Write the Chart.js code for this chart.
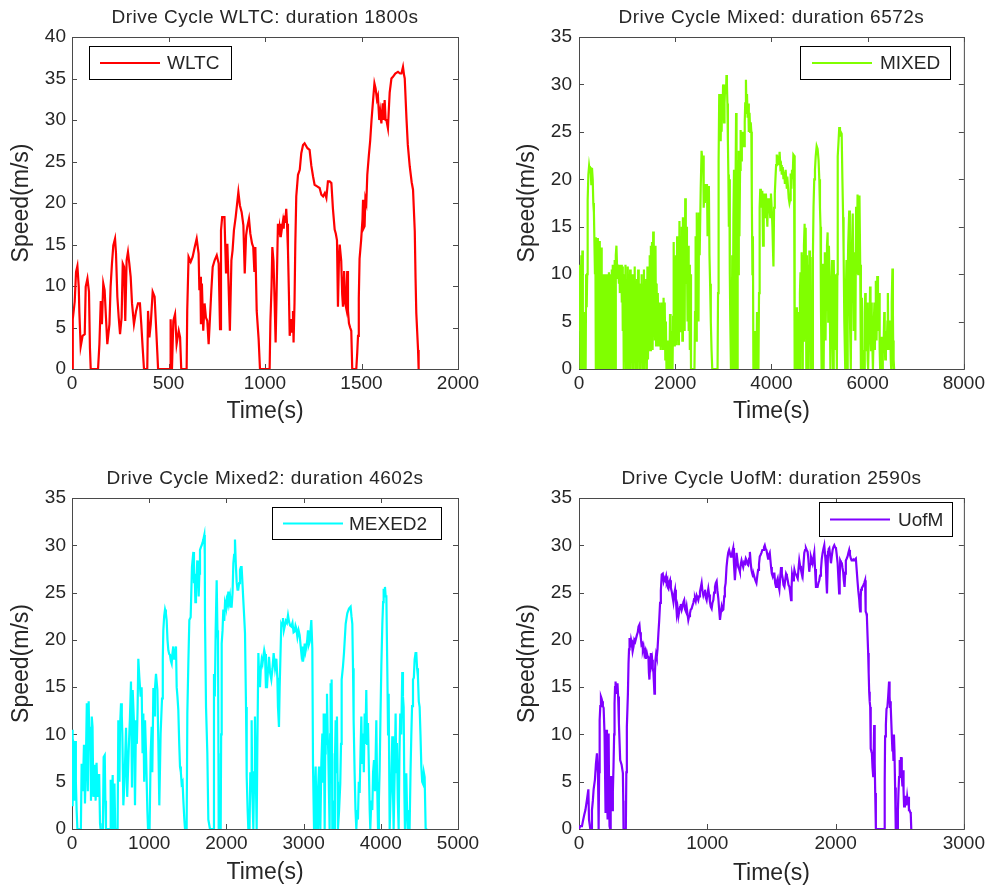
<!DOCTYPE html>
<html>
<head>
<meta charset="utf-8">
<title>Drive cycles</title>
<script src="https://cdn.jsdelivr.net/npm/chart.js@4.4.1/dist/chart.umd.min.js"></script>
<style>
  html, body { margin: 0; padding: 0; background: #fff; }
  #sheet { position: relative; width: 988px; height: 890px; }
  .cell { position: absolute; width: 494px; height: 445px; }
</style>
</head>
<body>
<div id="sheet">
  <div class="cell" style="left:0;top:0"><canvas id="wltc" width="494" height="445"></canvas></div>
  <div class="cell" style="left:494px;top:0"><canvas id="mixed" width="494" height="445"></canvas></div>
  <div class="cell" style="left:0;top:445px"><canvas id="mixed2" width="494" height="445"></canvas></div>
  <div class="cell" style="left:494px;top:445px"><canvas id="uofm" width="494" height="445"></canvas></div>
</div>
<script>
// speed traces, [time s, speed m/s]
const wltcTrace = [
  [0,0],[4,0],[4,6],[14,8.1],[21,11.7],[28,12.4],[35,9.9],[38,6.9],[45,2.7],[55,4],[66,4.2],[71,9.9],[80,10.9],[88,9.3],[93,2.5],[97,0],
  [135,0],[142,3],[149,8.2],[155,5.4],[162,10.3],[169,9.5],[176,6.2],[183,3],[194,5.4],[200,9.9],[207,12.7],[214,14.9],[223,15.7],[228,13.9],
  [235,8.7],[242,6.2],[249,4.2],[257,6.2],[263,12.7],[270,12.3],[276,5.8],[283,13.1],[290,14.1],[297,12.7],[304,11.1],[311,7.9],[321,5.4],
  [332,7],[342,7.9],[352,7.9],[359,5.4],[366,2.6],[373,0],[390,0],[394,7],[401,3.8],[408,5.4],[418,9.3],[428,8.7],[435,5.4],[442,2],[446,0],
  [508,0],[511,6],[518,0],[525,5.8],[534,6.6],[542,3],[553,4.6],[560,3.8],[566,0],[594,0],[597,7],[604,13.5],[615,12.9],[625,13.5],
  [636,14.7],[646,15.7],[656,13.9],[660,9.5],[665,11.1],[668,5.4],[673,10.3],[680,4.6],[687,7.9],[694,6.2],[701,5.8],[708,3],[715,6.2],
  [722,9.5],[729,12.3],[739,13.1],[750,13.7],[760,12.7],[767,4.8],[772,16.7],[778,18.3],[790,18.3],[798,11.5],[805,15.1],[812,9.5],
  [818,4.6],[826,13.1],[832,14.3],[839,16.7],[848,18.3],[862,21.3],[870,19.7],[879,18.9],[888,17.3],[895,11.5],[902,16.1],[908,17.1],
  [917,18.1],[924,16.3],[933,15.1],[939,14.7],[945,11.7],[950,14.7],[957,7],[967,3.6],[974,0],[1024,0],[1028,5.7],[1034,10],[1038,14.7],
  [1044,13],[1050,8],[1055,3.2],[1060,9],[1067,17.5],[1071,16.2],[1075,17],[1079,16],[1082,17.5],[1087,16.8],[1093,17.8],[1097,16.9],
  [1100,18.5],[1105,17.6],[1110,19.3],[1114,17.5],[1119,14.3],[1124,9],
  [1128,4],[1135,6],[1140,4.5],[1145,7],[1148,3.2],[1153,8],[1157,15],[1162,20.8],[1171,23.4],[1180,24],[1188,26],[1197,27],[1205,27.2],
  [1220,26.6],[1231,26.4],[1240,24.5],[1249,23.2],[1257,22.2],[1270,22],[1283,21.8],[1292,21],[1301,20.8],[1310,21.2],[1318,20.6],
  [1326,22.6],[1335,22.6],[1344,22.4],[1352,19.3],[1361,16.8],[1367,16.3],[1373,15.5],[1378,7.5],[1383,13],[1387,15],[1395,13],[1400,9],
  [1404,7.5],[1410,11.8],[1415,8],[1421,7.3],[1426,11.8],[1430,7],[1435,5.5],[1441,5],[1447,4.6],[1452,0],[1473,0],[1478,2],[1482,4],
  [1486,8.5],[1490,13.3],[1498,15.5],[1505,18],[1508,20.4],[1512,17],[1516,17.2],[1520,20.5],[1525,20],[1530,23.4],[1538,25.7],[1545,27.5],
  [1552,30],[1560,32.4],[1567,34.4],[1573,33.8],[1580,32.5],[1585,32.9],[1592,30],[1597,31],[1603,29.6],[1610,32],[1615,30],[1620,32.4],
  [1625,30],[1629,30],[1637,29],[1641,31],[1646,33.3],[1655,35],[1663,35.2],[1675,35.6],[1689,35.8],[1700,35.6],[1707,35.6],[1715,36.4],
  [1720,35.5],[1724,35],[1733,30.2],[1740,27],[1750,24.4],[1760,22.5],[1767,21.6],[1776,16.6],[1780,11],[1784,6.7],[1793,2.3],[1796,0],[1800,0]
];

const mixedTrace = [
  [0,8.8],[10,4],[20,11],[30,0],[40,9.5],[50,12],[60,6],[70,12.5],[80,0],[100,0],[112,6],[122,0],[138,0],[148,10],[160,6.5],[170,10],
  [180,17.8],[195,20.5],[210,21.4],[225,20.8],[240,21.3],[255,19.5],[270,21.2],[285,20],[297,17.5],[310,16.5],[322,13],[332,10],[340,13.9],
  [350,0],[362,12],[372,3],[382,13.8],[392,0],[402,11],[412,2],[422,13.5],[432,0],[442,10],[452,1],[462,12.8],[472,0],[482,10],[492,4],
  [502,10],[512,0],[522,9.8],[532,2],[542,10],[552,0],[562,9.5],[572,3],[582,10],[592,0],[602,10],[612,1.5],[622,10.2],[632,0],[642,9.8],
  [652,2],[662,10],[672,0],[682,10.5],[692,0],[702,11],[712,0],[722,11],[732,0],[742,11.5],[752,0],[765,12],[778,13],[790,11],[800,9.5],
  [810,11],[820,10],[830,9],[840,11],[850,8],[860,10.5],[870,9],[880,11],[890,7],[900,10.8],[910,4],[920,10],[930,0],[942,10],[954,2],
  [966,11],[978,0],[990,9.5],[1002,3],[1014,10.8],[1026,0],[1038,9],[1050,4],[1062,10.5],[1074,0],[1086,8.5],[1098,2],[1110,10],[1122,0],
  [1134,9],[1146,3],[1158,10.8],[1170,0],[1182,8],[1194,1],[1206,9.5],[1218,0],[1230,10.5],[1242,3],[1254,9],[1266,0],[1278,8.5],[1290,2],
  [1302,10],[1314,0],[1326,9],[1338,3],[1350,10.5],[1362,0],[1374,8],[1386,2],[1398,9.5],[1410,0],[1422,10.8],[1434,1],[1446,8],[1458,3],
  [1470,12],[1482,2],[1494,13],[1506,4],[1518,13.4],[1530,2],[1542,14.5],[1554,5],[1566,12],[1578,3],[1590,13],[1602,2.5],[1614,9],
  [1626,3],[1638,8],[1650,2.5],[1662,7],[1674,3],[1686,6.5],[1698,2],[1710,7],[1722,3.5],[1734,6],[1746,2],[1758,7.5],[1770,4],[1782,7],
  [1794,1],[1806,5],[1818,0],[1840,0],[1852,3],[1864,0],[1880,0],[1892,5.8],[1904,0],[1920,0],[1932,4],[1944,0],[1956,5.5],[1968,13.4],
  [1980,2.5],[1992,10],[2004,3],[2016,12],[2028,2.5],[2040,14],[2052,3],[2064,12.5],[2076,2.5],[2088,15.6],[2100,4],[2112,13],[2124,5],
  [2136,15],[2148,3],[2160,16],[2172,6],[2184,14],[2196,4],[2208,18],[2220,9],[2232,15],[2244,12],[2256,5],[2268,13],[2280,4],[2292,11],
  [2304,2],[2316,10],[2328,0],[2400,0],[2412,6],[2424,14],[2436,3],[2448,16.5],[2460,8],[2472,15],[2484,5],[2496,16.5],[2508,12],[2530,19],
  [2548,23],[2565,22],[2580,22.5],[2592,17],[2604,18.5],[2616,17.5],[2630,19.5],[2645,18],[2660,19.5],[2672,14],[2685,19],[2700,19.3],
  [2712,12],[2725,9],[2740,5],[2755,2],[2770,0],[2880,0],[2890,8],[2898,15],[2906,22],[2915,29],[2925,26],[2935,29],[2945,24],[2955,28],
  [2965,25],[2975,29],[2985,27],[2995,30],[3005,29],[3015,26],[3025,28],[3040,30],[3055,29],[3065,31],[3075,30],[3085,28],[3095,24],
  [3105,20.5],[3115,15],[3125,20],[3135,10],[3145,5],[3158,0],[3175,0],[3185,12],[3195,0],[3210,16],[3222,21],[3232,0],[3245,0],[3255,20],
  [3265,27],[3275,15],[3285,0],[3298,22],[3310,10],[3322,23],[3335,14],[3348,21],[3360,25.2],[3372,22],[3385,24],[3398,25],[3410,23.5],
  [3422,25],[3432,23.5],[3445,26],[3455,28],[3470,30.5],[3482,27],[3492,29],[3505,26.5],[3518,28],[3530,25],[3545,27],[3558,25],[3570,26],
  [3582,25],[3592,18],[3605,10],[3615,14],[3625,0],[3645,0],[3655,4],[3665,0],[3690,0],[3700,6],[3712,0],[3730,0],[3742,8],[3755,17],
  [3768,19],[3780,18],[3795,17],[3810,18.8],[3825,13],[3840,18.5],[3855,17.5],[3870,16],[3885,18.5],[3900,17],[3915,15],[3930,18],
  [3945,16.5],[3960,17.1],[3975,16],[3990,18.5],[4005,17],[4020,15],[4035,12],[4042,10.8],[4055,17],[4070,18.5],[4083,20],[4097,21.5],
  [4111,22.6],[4125,21.8],[4140,22.5],[4155,21.5],[4170,22.9],[4185,21.3],[4200,21.5],[4215,20.5],[4235,21.3],[4250,20],[4265,20.8],
  [4280,19.5],[4295,21],[4304,20.3],[4320,19],[4340,19.5],[4360,18],[4375,17.5],[4387,17.8],[4400,20.6],[4415,19],[4428,21],[4440,20],
  [4456,22.6],[4470,22.5],[4480,15],[4486,0],[4498,6],[4508,0],[4520,6.5],[4530,0],[4545,5],[4556,0],[4570,6],[4580,0],[4592,8],
  [4604,10.2],[4615,2],[4628,12.3],[4640,0],[4652,12],[4664,3],[4676,13],[4690,15.3],[4700,4],[4712,14.9],[4725,0],[4737,12],[4750,4],
  [4762,11],[4775,0],[4788,12.5],[4800,5],[4812,11.8],[4825,0],[4838,6],[4850,0],[4862,12],[4875,17.1],[4890,20],[4905,21],[4920,22.4],
  [4940,23.5],[4960,23.2],[4980,22],[4995,20],[5009,17],[5020,15],[5030,6],[5042,0],[5055,6],[5070,11.1],[5085,0],[5097,8],[5110,12.3],
  [5125,3],[5140,10],[5155,13],[5168,14.4],[5180,5],[5195,13],[5210,9],[5225,0],[5240,6.5],[5260,11.5],[5280,0],[5290,7],[5300,11.5],
  [5320,2],[5330,9],[5340,10],[5360,0],[5370,10],[5378,22.4],[5395,24],[5410,25.5],[5425,24.5],[5440,25],[5460,24.8],[5475,20],[5490,16],
  [5500,12.5],[5515,5],[5534,0],[5547,8],[5560,11.5],[5575,0],[5585,9],[5595,13],[5617,16.7],[5630,6],[5650,0],[5660,8],[5670,12],
  [5690,16.4],[5710,4],[5720,10],[5730,12.3],[5745,3],[5760,17.1],[5775,10],[5790,18.4],[5805,10],[5818,15],[5830,18.3],[5845,11],[5860,0],
  [5870,4],[5880,7.5],[5890,2],[5900,0],[5930,0],[5940,6],[5950,8],[5960,3],[5970,2],[5980,6],[5990,7],[6000,1],[6010,0],[6020,0],[6030,5],
  [6040,3],[6050,8.7],[6060,4],[6070,2],[6080,7],[6090,6],[6100,2],[6110,0],[6125,4],[6140,7],[6150,2],[6160,6],[6170,9.3],[6185,3],
  [6200,9.8],[6215,4],[6228,7],[6240,8],[6250,2],[6260,0],[6270,2],[6280,3.4],[6290,1],[6300,0],[6315,3],[6330,2],[6345,6],[6355,3],
  [6365,1],[6380,4],[6395,2],[6410,5],[6420,8],[6430,3],[6440,2],[6455,5],[6470,5],[6480,1],[6490,0],[6500,7],[6515,10.6],[6525,6],
  [6530,3],[6540,1],[6550,0],[6572,0]
];

const mixed2Trace = [
  [0,10.5],[8,2.4],[15,9.3],[25,9],[33,3],[40,9.3],[50,5],[60,2],[70,0],[115,0],[125,6.9],[140,4],[155,8.9],[168,2.7],[180,7.1],[192,13.3],
  [205,4],[216,13.5],[226,8.3],[236,10.8],[246,3],[256,11.9],[266,10.8],[276,3.4],[286,6.2],[296,6.8],[306,3],[318,7],[330,3.4],[341,5.7],
  [352,5.7],[363,0.6],[370,0],[400,0],[410,7.6],[424,7.8],[432,3],[440,0],[495,0],[501,5.2],[510,0],[527,5.7],[535,0],[550,4.8],[560,0],
  [591,0],[600,11.5],[615,5],[622,10.8],[635,13.3],[645,12],[652,10.1],[665,2.5],[680,5],[700,10.7],[715,3.4],[734,8.3],[751,11.9],
  [764,15.6],[777,4.4],[786,14.7],[803,11.2],[816,2.5],[829,11.5],[840,9],[850,12.9],[859,18],[872,16.1],[889,14],[902,15],[914,8],
  [924,12.2],[935,5],[946,11.5],[959,8],[976,2],[985,0],[1005,0],[1019,8],[1032,10.8],[1040,6],[1054,14.9],[1065,12],[1075,14.9],
  [1088,16.4],[1106,14.7],[1118,9.3],[1131,2.5],[1148,10.1],[1166,13.8],[1176,18],[1183,21],[1194,22.5],[1205,23.2],[1216,22.8],[1226,22.1],
  [1237,20],[1248,18.9],[1259,18.5],[1269,18.4],[1280,17.8],[1291,17.5],[1300,18.5],[1312,19.3],[1323,18],[1334,18.2],[1347,19.3],
  [1356,15],[1366,14],[1377,12.6],[1389,9],[1399,6.6],[1410,6],[1420,4.8],[1432,5],[1442,3.1],[1455,1],[1464,0],[1485,0],[1494,12.2],
  [1507,17.5],[1520,22.1],[1537,22.4],[1554,27.7],[1572,29.3],[1580,26],[1589,27],[1598,24],[1606,25.6],[1615,27],[1623,28.4],[1632,26],
  [1641,24.6],[1650,27],[1658,29.5],[1670,29.8],[1680,30],[1692,30.3],[1701,30.6],[1714,31.1],[1720,29],[1723,22.1],[1736,12.9],[1753,8],
  [1766,1],[1787,0],[1831,0],[1839,16.4],[1850,14],[1861,21],[1874,26.3],[1884,21],[1891,20],[1897,8],[1900,0],[1926,0],[1932,10],
  [1939,19.6],[1950,21],[1960,23.2],[1972,22],[1982,23.9],[1993,23.5],[2003,24.2],[2014,23.8],[2025,25.1],[2036,24],[2047,24.6],[2058,23.5],
  [2068,23.5],[2080,25],[2090,28.1],[2100,29],[2111,30.6],[2122,28],[2133,26.1],[2144,25.3],[2154,25.3],[2165,26],[2176,27.4],[2187,27.7],
  [2197,27.7],[2208,26],[2219,24.2],[2230,22.5],[2241,20.7],[2254,12.9],[2263,5.5],[2275,2],[2284,0],[2300,0],[2310,6],[2320,5],
  [2327,11.5],[2335,4],[2349,0],[2360,6],[2370,11.9],[2380,6],[2392,0],[2400,8],[2414,18.6],[2425,16],[2435,15],[2446,17],[2457,17.9],
  [2468,17.5],[2478,18.2],[2490,18.9],[2500,18.5],[2512,15],[2526,15],[2540,17],[2552,18.2],[2566,16.5],[2582,15.8],[2597,17],[2612,18.6],
  [2630,17],[2647,18],[2660,16],[2668,12.9],[2681,10.8],[2690,15],[2699,17.9],[2711,21.7],[2722,21.5],[2733,22.3],[2744,21],[2755,21.4],
  [2770,22],[2784,21.8],[2798,22.6],[2812,21.9],[2826,21.5],[2841,21.4],[2856,21.8],[2870,20.8],[2884,20.9],[2895,21.5],[2906,21.2],
  [2920,20.3],[2935,21],[2949,20.5],[2960,19.5],[2971,18.6],[2982,19.3],[2992,17.7],[3003,18.3],[3014,19.6],[3025,18.8],[3036,19.3],
  [3047,20],[3057,21],[3068,19.5],[3079,19.8],[3090,21],[3100,22.1],[3113,19.1],[3122,6.6],[3135,0],[3145,3],[3156,6.6],[3165,2],
  [3174,0],[3186,4],[3200,6.6],[3208,2],[3217,0],[3230,7],[3243,10.1],[3252,5],[3260,12.2],[3267,6],[3273,0],[3280,8],[3286,12.2],
  [3295,9],[3303,14.3],[3312,10],[3320,8],[3328,4],[3337,0],[3344,10],[3350,15.4],[3357,12],[3363,15.8],[3368,8],[3372,0],[3385,3],
  [3398,0],[3406,7],[3415,11.5],[3424,6],[3432,11.9],[3440,5],[3445,0],[3460,2],[3475,4.8],[3485,9],[3493,15.8],[3510,17.2],[3523,18.6],
  [3545,21.7],[3566,22.8],[3588,23.3],[3609,23.5],[3620,22.5],[3631,21.7],[3640,17],[3648,11.5],[3661,5.9],[3672,2],[3683,0],[3694,2],
  [3704,1],[3715,5],[3726,3.8],[3737,8],[3748,11.9],[3758,7],[3769,10.1],[3780,6],[3791,12.2],[3800,9],[3812,14.7],[3823,9],[3834,11.2],
  [3847,5.9],[3856,2],[3864,0],[3877,3],[3890,2],[3900,6],[3912,7.3],[3925,4],[3942,11.5],[3952,5],[3964,0],[3975,3],[3985,6.2],[3996,12],
  [4007,17.2],[4020,21.7],[4030,24],[4037,25.4],[4045,24.8],[4054,25.6],[4063,24.6],[4072,24.6],[4085,16.4],[4094,10],[4102,14.3],
  [4110,5],[4115,0],[4125,3],[4136,5.2],[4149,9.8],[4158,4],[4166,0],[4180,6],[4192,12.2],[4200,6],[4209,9.1],[4220,3],[4231,0],[4242,8],
  [4252,12.2],[4265,10],[4278,16.6],[4287,14],[4296,12.9],[4305,4],[4313,0],[4322,3],[4330,5.9],[4340,2],[4348,0],[4373,0],[4385,6],
  [4395,9.8],[4405,13],[4417,15.8],[4428,16],[4438,17.9],[4450,18.6],[4460,18.6],[4470,17],[4481,16.1],[4492,13.5],[4503,12.9],[4514,10],
  [4525,6.6],[4536,5],[4546,4.8],[4557,6],[4568,5.5],[4581,0],[4602,0]
];

const uofmTrace = [
  [0,0],[10,0.3],[23,0.3],[30,0.8],[41,1.5],[50,2],[62,3.1],[73,4.2],[78,1],[88,0],[95,0],[101,2],[108,3],[114,4.2],[124,5.2],[132,6.9],
  [140,8],[148,5.9],[153,0],[157,6],[161,11.5],[166,13],[171,14],[176,13.8],[181,13.5],[186,13],[192,12.8],[199,10.1],[204,5],[207,1.7],
  [213,10.5],[218,4],[223,1],[227,6],[231,10.1],[235,3],[238,0.3],[243,0],[247,3],[251,5.6],[259,2],[264,4],[269,6.6],[274,10],[277,13.3],
  [281,15],[285,15.6],[290,14.3],[295,14.3],[300,15.4],[305,14],[311,11.2],[321,7.3],[332,6.8],[342,5.9],[345,3],[347,0],[365,0],[369,6],
  [373,10.8],[381,14.2],[386,17.5],[390,19],[394,20.2],[400,19.2],[406,20],[412,19.6],[418,18.8],[425,19.3],[431,20],[438,19.8],[444,19.8],
  [451,20.5],[458,20.8],[464,21.4],[471,21.6],[476,20.8],[482,20.2],[487,19.5],[492,19.6],[498,19],[503,19.3],[510,18.5],[516,18.8],
  [522,18],[529,18.6],[535,18.2],[541,18.2],[545,16.5],[549,15.8],[555,17.8],[560,18.6],[565,17.5],[570,17.9],[575,17],[580,16.6],
  [584,15.5],[588,14.3],[592,16.5],[596,17.9],[601,18.5],[606,18.2],[612,19],[619,20.7],[625,22],[632,23.9],[638,25.2],[645,26.9],[653,27],
  [660,26.2],[666,26.5],[672,26.3],[679,26.7],[684,26.1],[689,26.3],[693,25.5],[697,25.4],[703,26],[710,26.3],[716,25.5],[723,25.1],
  [730,24.5],[736,24],[742,24.8],[749,25.3],[755,24.2],[762,22.8],[768,23.4],[775,22.5],[781,23],[788,23.5],[794,23.8],[801,23.2],
  [807,23.5],[814,24],[820,24.2],[827,23.2],[833,23],[839,23.5],[845,22.8],[852,22.1],[858,22.5],[865,22.8],[871,23.2],[878,23.3],
  [884,23.6],[891,23.9],[897,24.3],[904,24.4],[910,24.1],[917,24.7],[923,24.5],[930,24.2],[936,24.6],[943,25.1],[949,25.5],[956,26],
  [962,25.2],[969,24.7],[975,25],[982,25.3],[988,24.5],[995,24.2],[1001,24.8],[1008,25.4],[1014,24.8],[1021,24],[1027,23.5],[1034,23.3],
  [1040,23.9],[1047,24.2],[1053,25],[1060,25.6],[1066,26],[1073,26.2],[1079,25.2],[1086,24.4],[1092,23.3],[1099,22.1],[1105,22.8],
  [1112,23.5],[1118,23.1],[1125,23.2],[1132,24.6],[1137,25.5],[1143,26],[1150,27.7],[1156,28.5],[1163,29.2],[1170,29.5],[1176,29.5],
  [1183,28.8],[1189,28.8],[1195,29.3],[1202,29.7],[1208,28],[1215,26.3],[1221,27.5],[1228,29.2],[1234,28.5],[1241,27.7],[1248,27.5],
  [1254,27.2],[1261,28],[1267,28.4],[1274,28],[1280,27.7],[1287,28.2],[1293,28.1],[1300,28.6],[1306,28.4],[1313,28],[1319,27.9],
  [1326,28.6],[1332,29.3],[1338,28.2],[1344,27.4],[1351,27],[1357,26.7],[1364,26.8],[1370,26.5],[1377,26.2],[1383,26],[1390,26.8],
  [1396,27.4],[1403,28],[1409,28.8],[1416,29],[1422,29.2],[1429,29.5],[1435,29.5],[1442,29.8],[1448,30],[1455,29.6],[1461,29.5],[1468,29],
  [1474,28.6],[1481,29],[1487,29.2],[1497,27.7],[1503,27],[1510,26.7],[1516,27],[1523,27],[1529,26],[1536,25.6],[1542,26.2],[1549,26.5],
  [1555,25.8],[1562,25.3],[1568,26.5],[1575,27.7],[1581,27],[1588,26.5],[1594,25.8],[1601,25.6],[1607,26.3],[1614,27],[1620,26.8],
  [1627,26.3],[1633,25.8],[1640,25.6],[1646,25],[1653,24.2],[1657,25.5],[1661,26.9],[1666,26.5],[1671,26.3],[1675,26.8],[1679,27.4],
  [1686,27],[1692,26.9],[1698,26.7],[1705,26.5],[1711,27.5],[1717,28.4],[1724,27.8],[1730,27.4],[1737,27],[1743,26.7],[1750,28],
  [1756,29.2],[1762,29.5],[1769,29.7],[1775,29.5],[1782,29.3],[1788,28.5],[1795,27.2],[1801,28],[1808,28.8],[1814,28.5],[1821,28.1],
  [1827,28.6],[1834,29.2],[1840,27.5],[1847,25.6],[1853,25.6],[1860,25.6],[1866,26],[1873,26.3],[1879,26.8],[1886,27.4],[1892,28.5],
  [1899,29.2],[1905,29.6],[1912,30],[1918,29],[1925,27.7],[1929,26],[1933,24.9],[1937,27],[1941,29.3],[1946,29.6],[1951,29.7],[1957,29],
  [1964,28.1],[1970,28.8],[1977,29.5],[1983,29.8],[1990,30],[1996,29.8],[2003,29.7],[2009,29],[2016,28.1],[2022,26.5],[2028,24.9],
  [2032,26.5],[2036,28.4],[2042,28.2],[2049,28.1],[2054,27.6],[2059,27.2],[2064,26.3],[2070,25.6],[2075,27],[2080,28.4],[2087,28.6],
  [2093,28.8],[2100,29.2],[2106,29.5],[2112,29],[2119,28.6],[2125,28.4],[2132,28.4],[2138,28.5],[2145,28.4],[2151,28.5],[2158,28.6],
  [2164,27.5],[2171,26.2],[2177,25.2],[2184,24.3],[2188,23.5],[2192,23],[2196,24.5],[2199,25.3],[2205,25.5],[2210,25.6],[2217,25.8],
  [2223,26],[2230,26.3],[2233,24.5],[2236,23],[2240,22.8],[2244,22.5],[2249,20.5],[2254,18.6],[2258,16.5],[2262,14.5],[2266,13.5],
  [2270,12.9],[2273,10.5],[2275,8.5],[2279,8.2],[2283,8],[2288,6.5],[2293,5.6],[2297,8],[2301,11],[2305,7],[2309,3.8],[2314,0],[2379,0],
  [2383,5],[2386,9.8],[2392,11],[2397,12.7],[2404,12.9],[2410,14],[2417,15.6],[2421,14],[2425,12.9],[2428,13.5],[2432,12.9],[2438,10],
  [2443,8.3],[2447,9],[2451,7.3],[2455,10],[2459,8.3],[2464,4.4],[2469,0],[2482,0],[2486,2],[2490,3.8],[2495,5.5],[2500,7.3],[2505,6],
  [2510,7.6],[2516,5.6],[2521,4.5],[2526,6.2],[2530,4],[2534,2.4],[2540,3.4],[2547,3.4],[2552,2.5],[2558,3.4],[2563,2.8],[2568,3.4],
  [2572,2],[2576,2],[2581,1.8],[2586,1.6],[2590,0]
];

const speedTicks40 = [0, 5, 10, 15, 20, 25, 30, 35, 40];
const speedTicks35 = [0, 5, 10, 15, 20, 25, 30, 35];
const wltcTimeTicks = [0, 500, 1000, 1500, 2000];
const mixedTimeTicks = [0, 2000, 4000, 6000, 8000];
const mixed2TimeTicks = [0, 1000, 2000, 3000, 4000, 5000];
const uofmTimeTicks = [0, 1000, 2000, 3000];

const ink = "#262626";
const family = '"Liberation Sans", Arial, Helvetica, sans-serif';

Chart.defaults.font.family = family;
Chart.defaults.color = ink;

// frame, inward ticks on all four sides, title and the boxed legend (matlab look)
const axesDecor = {
  id: "axesDecor",
  beforeDatasetsDraw(chart) {
    const { ctx, chartArea: a, scales } = chart;
    const tick = 5;
    ctx.save();
    ctx.strokeStyle = "#4a4a4a";
    ctx.lineWidth = 1;
    ctx.strokeRect(a.left + 0.5, a.top + 0.5, a.right - a.left, a.bottom - a.top);
    ctx.beginPath();
    scales.x.ticks.forEach((t) => {
      const px = Math.round(scales.x.getPixelForValue(t.value)) + 0.5;
      ctx.moveTo(px, a.bottom);
      ctx.lineTo(px, a.bottom - tick);
      ctx.moveTo(px, a.top);
      ctx.lineTo(px, a.top + tick);
    });
    scales.y.ticks.forEach((t) => {
      const py = Math.round(scales.y.getPixelForValue(t.value)) + 0.5;
      ctx.moveTo(a.left, py);
      ctx.lineTo(a.left + tick, py);
      ctx.moveTo(a.right, py);
      ctx.lineTo(a.right - tick, py);
    });
    ctx.stroke();
    ctx.restore();
  },
  afterDraw(chart, args, opts) {
    const { ctx, chartArea: a } = chart;
    ctx.save();
    ctx.fillStyle = ink;
    ctx.font = `19px ${family}`;
    ctx.letterSpacing = "0.5px";
    ctx.textAlign = "center";
    ctx.textBaseline = "alphabetic";
    ctx.fillText(opts.title, (a.left + a.right) / 2, a.top - 14.5);
    ctx.letterSpacing = "0px";

    const lg = opts.legend;
    const ds = chart.data.datasets[0];
    ctx.fillStyle = "#fff";
    ctx.fillRect(lg.x, lg.y, lg.w, lg.h);
    ctx.strokeStyle = "#000";
    ctx.lineWidth = 1;
    ctx.strokeRect(lg.x + 0.5, lg.y + 0.5, lg.w, lg.h);
    const my = lg.y + lg.h / 2 + 0.5;
    ctx.strokeStyle = ds.borderColor;
    ctx.lineWidth = 2;
    ctx.beginPath();
    ctx.moveTo(lg.x + lg.lineFrom, my);
    ctx.lineTo(lg.x + lg.lineFrom + 60, my);
    ctx.stroke();
    ctx.fillStyle = ink;
    ctx.textAlign = "left";
    ctx.textBaseline = "middle";
    ctx.fillText(ds.label, lg.x + lg.textFrom, my + 1);
    ctx.restore();
  },
};

function drawCycle(id, cfg) {
  new Chart(document.getElementById(id), {
    type: "line",
    data: {
      datasets: [
        {
          label: cfg.name,
          data: cfg.trace.map(([t, v]) => ({ x: t, y: v })),
          borderColor: cfg.color,
          borderWidth: 2.2,
          pointRadius: 0,
          tension: 0,
          fill: false,
        },
      ],
    },
    plugins: [axesDecor],
    options: {
      responsive: false,
      devicePixelRatio: 1,
      animation: false,
      events: [],
      layout: { padding: { top: cfg.top, right: cfg.right, left: 0, bottom: 0 } },
      scales: {
        x: {
          type: "linear",
          min: 0,
          max: cfg.xTicks[cfg.xTicks.length - 1],
          grid: { display: false, drawTicks: false },
          border: { display: false },
          ticks: {
            padding: 3,
            color: ink,
            font: { size: 19 },
            maxRotation: 0,
            autoSkip: false,
            callback: (v) => String(v),
          },
          afterBuildTicks: (s) => { s.ticks = cfg.xTicks.map((v) => ({ value: v })); },
          afterFit: (s) => { s.height = cfg.xBand; },
          title: {
            display: true,
            text: "Time(s)",
            color: ink,
            font: { size: 23 },
            padding: { top: 0, bottom: cfg.xTitlePad },
          },
        },
        y: {
          min: 0,
          max: cfg.yTicks[cfg.yTicks.length - 1],
          grid: { display: false, drawTicks: false },
          border: { display: false },
          ticks: {
            padding: cfg.yTickPad,
            color: ink,
            font: { size: 19 },
            autoSkip: false,
            callback: (v) => String(v),
          },
          afterBuildTicks: (s) => { s.ticks = cfg.yTicks.map((v) => ({ value: v })); },
          afterFit: (s) => { s.width = cfg.yBand; },
          title: {
            display: true,
            text: "Speed(m/s)",
            color: ink,
            font: { size: 23 },
            padding: { top: cfg.yTitlePad, bottom: 0 },
          },
        },
      },
      plugins: {
        legend: { display: false },
        tooltip: { enabled: false },
        axesDecor: { title: cfg.title, legend: cfg.legend },
      },
    },
  });
}

drawCycle("wltc", {
  name: "WLTC", color: "#ff0000", trace: wltcTrace,
  title: "Drive Cycle WLTC: duration 1800s",
  xTicks: wltcTimeTicks, yTicks: speedTicks40,
  top: 37, right: 36, yBand: 72, xBand: 76, yTickPad: 6, yTitlePad: 8, xTitlePad: 20,
  legend: { x: 89, y: 46, w: 142, h: 33, lineFrom: 11, textFrom: 78 },
});

drawCycle("mixed", {
  name: "MIXED", color: "#80ff00", trace: mixedTrace,
  title: "Drive Cycle Mixed: duration 6572s",
  xTicks: mixedTimeTicks, yTicks: speedTicks35,
  top: 37, right: 23, yBand: 85, xBand: 76, yTickPad: 7, yTitlePad: 20, xTitlePad: 20,
  legend: { x: 306, y: 46, w: 150, h: 33, lineFrom: 12, textFrom: 80 },
});

drawCycle("mixed2", {
  name: "MEXED2", color: "#00ffff", trace: mixed2Trace,
  title: "Drive Cycle Mixed2: duration 4602s",
  xTicks: mixed2TimeTicks, yTicks: speedTicks35,
  top: 53, right: 36, yBand: 72, xBand: 61, yTickPad: 6, yTitlePad: 8, xTitlePad: 4,
  legend: { x: 272, y: 62, w: 169, h: 32, lineFrom: 11, textFrom: 77 },
});

drawCycle("uofm", {
  name: "UofM", color: "#8000ff", trace: uofmTrace,
  title: "Drive Cycle UofM: duration 2590s",
  xTicks: uofmTimeTicks, yTicks: speedTicks35,
  top: 53, right: 23, yBand: 85, xBand: 61, yTickPad: 7, yTitlePad: 20, xTitlePad: 3,
  legend: { x: 325, y: 57, w: 133, h: 34, lineFrom: 11, textFrom: 79 },
});
</script>
</body>
</html>
